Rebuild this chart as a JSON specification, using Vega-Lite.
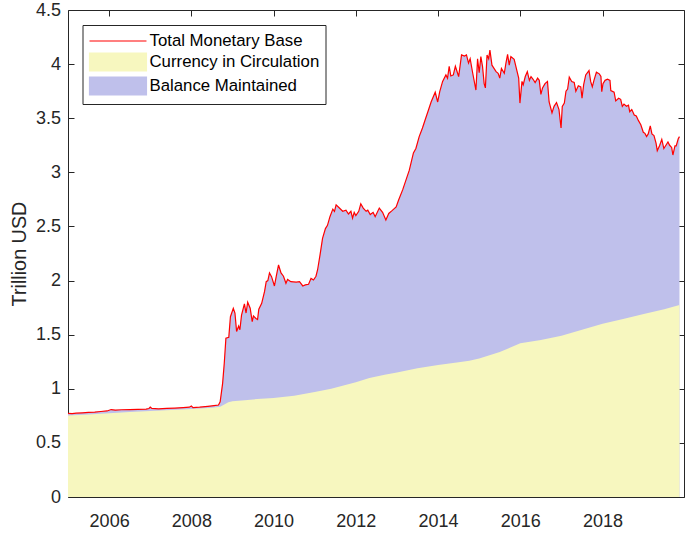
{
  "$schema": "https://vega.github.io/schema/vega-lite/v6.json",
  "width": 616,
  "height": 487,
  "autosize": "none",
  "padding": {"left": 68, "top": 10, "right": 6, "bottom": 36},
  "background": "white",
  "config": {
    "view": {"stroke": null},
    "font": "Liberation Sans",
    "axis": {
      "domainColor": "#262626",
      "tickColor": "#262626",
      "labelColor": "#262626",
      "labelFont": "Liberation Sans",
      "labelFontSize": 18,
      "titleFont": "Liberation Sans",
      "titleFontSize": 19.8,
      "titleColor": "#262626",
      "titleFontWeight": "normal",
      "grid": false,
      "tickSize": -6,
      "domainWidth": 1,
      "tickWidth": 1
    }
  },
  "datasets": {
    "total": [
      {"year": 2005.00, "v": 0.772}, {"year": 2005.10, "v": 0.770}, {"year": 2005.20, "v": 0.775}, {"year": 2005.35, "v": 0.778},
      {"year": 2005.50, "v": 0.782}, {"year": 2005.65, "v": 0.785}, {"year": 2005.80, "v": 0.790}, {"year": 2005.95, "v": 0.795},
      {"year": 2006.05, "v": 0.808}, {"year": 2006.15, "v": 0.803}, {"year": 2006.30, "v": 0.806}, {"year": 2006.50, "v": 0.808},
      {"year": 2006.70, "v": 0.810}, {"year": 2006.90, "v": 0.812}, {"year": 2006.97, "v": 0.818}, {"year": 2007.00, "v": 0.830},
      {"year": 2007.04, "v": 0.818}, {"year": 2007.20, "v": 0.815}, {"year": 2007.40, "v": 0.818}, {"year": 2007.60, "v": 0.822},
      {"year": 2007.80, "v": 0.826}, {"year": 2007.95, "v": 0.830}, {"year": 2008.00, "v": 0.840}, {"year": 2008.04, "v": 0.826},
      {"year": 2008.20, "v": 0.830}, {"year": 2008.40, "v": 0.838}, {"year": 2008.55, "v": 0.845}, {"year": 2008.66, "v": 0.850},
      {"year": 2008.70, "v": 0.880}, {"year": 2008.76, "v": 1.05}, {"year": 2008.80, "v": 1.236}, {"year": 2008.84, "v": 1.467},
      {"year": 2008.91, "v": 1.476}, {"year": 2008.95, "v": 1.666}, {"year": 2009.02, "v": 1.744}, {"year": 2009.06, "v": 1.70},
      {"year": 2009.10, "v": 1.53}, {"year": 2009.15, "v": 1.58}, {"year": 2009.18, "v": 1.545}, {"year": 2009.22, "v": 1.68},
      {"year": 2009.29, "v": 1.785}, {"year": 2009.33, "v": 1.70}, {"year": 2009.37, "v": 1.80}, {"year": 2009.43, "v": 1.744},
      {"year": 2009.48, "v": 1.62}, {"year": 2009.51, "v": 1.673}, {"year": 2009.57, "v": 1.65}, {"year": 2009.61, "v": 1.64},
      {"year": 2009.64, "v": 1.735}, {"year": 2009.71, "v": 1.79}, {"year": 2009.78, "v": 1.90}, {"year": 2009.82, "v": 1.99},
      {"year": 2009.86, "v": 2.00}, {"year": 2009.90, "v": 2.07}, {"year": 2009.95, "v": 2.036}, {"year": 2010.02, "v": 1.95},
      {"year": 2010.07, "v": 2.05}, {"year": 2010.12, "v": 2.144}, {"year": 2010.18, "v": 2.07}, {"year": 2010.24, "v": 2.04},
      {"year": 2010.30, "v": 1.975}, {"year": 2010.34, "v": 2.01}, {"year": 2010.42, "v": 1.99}, {"year": 2010.55, "v": 1.985},
      {"year": 2010.63, "v": 1.99}, {"year": 2010.71, "v": 1.95}, {"year": 2010.77, "v": 1.96}, {"year": 2010.85, "v": 1.966},
      {"year": 2010.91, "v": 2.02}, {"year": 2010.97, "v": 2.005}, {"year": 2011.03, "v": 2.04}, {"year": 2011.07, "v": 2.10},
      {"year": 2011.13, "v": 2.24}, {"year": 2011.19, "v": 2.39}, {"year": 2011.26, "v": 2.48}, {"year": 2011.31, "v": 2.51},
      {"year": 2011.37, "v": 2.59}, {"year": 2011.44, "v": 2.66}, {"year": 2011.48, "v": 2.64}, {"year": 2011.52, "v": 2.70},
      {"year": 2011.60, "v": 2.67}, {"year": 2011.68, "v": 2.64}, {"year": 2011.76, "v": 2.65}, {"year": 2011.82, "v": 2.615},
      {"year": 2011.88, "v": 2.64}, {"year": 2011.92, "v": 2.576}, {"year": 2011.96, "v": 2.63}, {"year": 2012.00, "v": 2.60},
      {"year": 2012.07, "v": 2.64}, {"year": 2012.12, "v": 2.71}, {"year": 2012.18, "v": 2.67}, {"year": 2012.25, "v": 2.64},
      {"year": 2012.29, "v": 2.65}, {"year": 2012.35, "v": 2.61}, {"year": 2012.42, "v": 2.63}, {"year": 2012.47, "v": 2.59},
      {"year": 2012.57, "v": 2.67}, {"year": 2012.65, "v": 2.63}, {"year": 2012.73, "v": 2.56}, {"year": 2012.80, "v": 2.62},
      {"year": 2012.88, "v": 2.646}, {"year": 2012.98, "v": 2.68}, {"year": 2013.04, "v": 2.745}, {"year": 2013.14, "v": 2.84},
      {"year": 2013.22, "v": 2.93}, {"year": 2013.30, "v": 3.02}, {"year": 2013.40, "v": 3.18}, {"year": 2013.46, "v": 3.22},
      {"year": 2013.54, "v": 3.33}, {"year": 2013.62, "v": 3.41}, {"year": 2013.69, "v": 3.49}, {"year": 2013.77, "v": 3.58},
      {"year": 2013.83, "v": 3.65}, {"year": 2013.93, "v": 3.74}, {"year": 2013.99, "v": 3.65}, {"year": 2014.04, "v": 3.745},
      {"year": 2014.11, "v": 3.84}, {"year": 2014.19, "v": 3.90}, {"year": 2014.23, "v": 3.87}, {"year": 2014.27, "v": 3.98},
      {"year": 2014.31, "v": 3.89}, {"year": 2014.37, "v": 3.90}, {"year": 2014.42, "v": 3.98}, {"year": 2014.50, "v": 3.885},
      {"year": 2014.57, "v": 4.085}, {"year": 2014.64, "v": 4.075}, {"year": 2014.69, "v": 4.085}, {"year": 2014.74, "v": 4.01},
      {"year": 2014.78, "v": 4.05}, {"year": 2014.84, "v": 3.92}, {"year": 2014.92, "v": 3.76}, {"year": 2014.96, "v": 4.05},
      {"year": 2015.00, "v": 3.92}, {"year": 2015.04, "v": 4.07}, {"year": 2015.08, "v": 3.98}, {"year": 2015.12, "v": 3.82},
      {"year": 2015.15, "v": 3.78}, {"year": 2015.19, "v": 4.085}, {"year": 2015.23, "v": 4.05}, {"year": 2015.26, "v": 4.13},
      {"year": 2015.31, "v": 3.99}, {"year": 2015.41, "v": 3.93}, {"year": 2015.46, "v": 3.915}, {"year": 2015.50, "v": 3.87},
      {"year": 2015.54, "v": 3.96}, {"year": 2015.61, "v": 3.915}, {"year": 2015.65, "v": 4.01}, {"year": 2015.69, "v": 4.09},
      {"year": 2015.73, "v": 3.99}, {"year": 2015.77, "v": 4.07}, {"year": 2015.85, "v": 4.045}, {"year": 2015.91, "v": 3.95},
      {"year": 2015.96, "v": 3.87}, {"year": 2015.99, "v": 3.64}, {"year": 2016.04, "v": 3.84}, {"year": 2016.07, "v": 3.81},
      {"year": 2016.12, "v": 3.885}, {"year": 2016.17, "v": 3.93}, {"year": 2016.22, "v": 3.85}, {"year": 2016.26, "v": 3.885},
      {"year": 2016.31, "v": 3.86}, {"year": 2016.36, "v": 3.83}, {"year": 2016.42, "v": 3.87}, {"year": 2016.46, "v": 3.85},
      {"year": 2016.50, "v": 3.72}, {"year": 2016.54, "v": 3.78}, {"year": 2016.60, "v": 3.82}, {"year": 2016.66, "v": 3.84},
      {"year": 2016.70, "v": 3.65}, {"year": 2016.77, "v": 3.55}, {"year": 2016.82, "v": 3.61}, {"year": 2016.88, "v": 3.645},
      {"year": 2016.94, "v": 3.58}, {"year": 2016.99, "v": 3.41}, {"year": 2017.02, "v": 3.61}, {"year": 2017.07, "v": 3.64},
      {"year": 2017.11, "v": 3.75}, {"year": 2017.15, "v": 3.77}, {"year": 2017.19, "v": 3.88}, {"year": 2017.25, "v": 3.84},
      {"year": 2017.31, "v": 3.83}, {"year": 2017.35, "v": 3.75}, {"year": 2017.41, "v": 3.80}, {"year": 2017.47, "v": 3.79},
      {"year": 2017.50, "v": 3.685}, {"year": 2017.54, "v": 3.81}, {"year": 2017.59, "v": 3.90}, {"year": 2017.67, "v": 3.94},
      {"year": 2017.71, "v": 3.84}, {"year": 2017.75, "v": 3.79}, {"year": 2017.79, "v": 3.85}, {"year": 2017.85, "v": 3.925},
      {"year": 2017.92, "v": 3.91}, {"year": 2017.96, "v": 3.885}, {"year": 2017.98, "v": 3.745}, {"year": 2018.01, "v": 3.82},
      {"year": 2018.06, "v": 3.85}, {"year": 2018.12, "v": 3.86}, {"year": 2018.18, "v": 3.85}, {"year": 2018.20, "v": 3.755},
      {"year": 2018.28, "v": 3.74}, {"year": 2018.32, "v": 3.66}, {"year": 2018.39, "v": 3.685}, {"year": 2018.44, "v": 3.675},
      {"year": 2018.48, "v": 3.61}, {"year": 2018.52, "v": 3.63}, {"year": 2018.58, "v": 3.61}, {"year": 2018.63, "v": 3.62},
      {"year": 2018.66, "v": 3.56}, {"year": 2018.71, "v": 3.58}, {"year": 2018.77, "v": 3.53}, {"year": 2018.82, "v": 3.52},
      {"year": 2018.87, "v": 3.48}, {"year": 2018.93, "v": 3.44}, {"year": 2018.99, "v": 3.37}, {"year": 2019.03, "v": 3.36},
      {"year": 2019.07, "v": 3.33}, {"year": 2019.11, "v": 3.355}, {"year": 2019.16, "v": 3.43}, {"year": 2019.20, "v": 3.355},
      {"year": 2019.25, "v": 3.34}, {"year": 2019.30, "v": 3.27}, {"year": 2019.33, "v": 3.20}, {"year": 2019.39, "v": 3.25},
      {"year": 2019.44, "v": 3.305}, {"year": 2019.49, "v": 3.22}, {"year": 2019.54, "v": 3.25}, {"year": 2019.59, "v": 3.28},
      {"year": 2019.63, "v": 3.25}, {"year": 2019.68, "v": 3.23}, {"year": 2019.71, "v": 3.16}, {"year": 2019.76, "v": 3.245},
      {"year": 2019.79, "v": 3.245}, {"year": 2019.84, "v": 3.31}, {"year": 2019.87, "v": 3.33}
    ],
    "currency": [
      {"year": 2005.00, "v": 0.752}, {"year": 2005.5, "v": 0.762}, {"year": 2006.0, "v": 0.775}, {"year": 2006.5, "v": 0.785},
      {"year": 2007.0, "v": 0.795}, {"year": 2007.5, "v": 0.805}, {"year": 2008.0, "v": 0.812}, {"year": 2008.5, "v": 0.825},
      {"year": 2008.7, "v": 0.835}, {"year": 2008.8, "v": 0.855}, {"year": 2008.9, "v": 0.875}, {"year": 2009.0, "v": 0.885},
      {"year": 2009.3, "v": 0.895}, {"year": 2009.6, "v": 0.905}, {"year": 2010.0, "v": 0.915}, {"year": 2010.5, "v": 0.935},
      {"year": 2011.0, "v": 0.970}, {"year": 2011.4, "v": 1.000}, {"year": 2011.7, "v": 1.030}, {"year": 2012.0, "v": 1.060},
      {"year": 2012.33, "v": 1.10}, {"year": 2012.7, "v": 1.13}, {"year": 2013.0, "v": 1.15}, {"year": 2013.5, "v": 1.19},
      {"year": 2014.0, "v": 1.22}, {"year": 2014.5, "v": 1.245}, {"year": 2014.76, "v": 1.26}, {"year": 2015.0, "v": 1.28},
      {"year": 2015.5, "v": 1.34}, {"year": 2016.0, "v": 1.42}, {"year": 2016.5, "v": 1.45}, {"year": 2017.0, "v": 1.49},
      {"year": 2017.5, "v": 1.545}, {"year": 2018.0, "v": 1.60}, {"year": 2018.5, "v": 1.645}, {"year": 2019.0, "v": 1.69},
      {"year": 2019.5, "v": 1.735}, {"year": 2019.87, "v": 1.775}
    ]
  },
  "layer": [
    {
      "data": {"name": "total"},
      "mark": {"type": "area", "opacity": 1, "interpolate": "linear"},
      "encoding": {
        "x": {
          "field": "year", "type": "quantitative",
          "scale": {"domain": [2005, 2019.98], "nice": false, "zero": false},
          "axis": {"orient": "bottom", "values": [2006, 2008, 2010, 2012, 2014, 2016, 2018], "format": "d", "title": null, "labelPadding": 21}
        },
        "y": {
          "field": "v", "type": "quantitative",
          "scale": {"domain": [0, 4.5], "nice": false, "zero": true},
          "axis": {"orient": "left", "values": [0, 0.5, 1, 1.5, 2, 2.5, 3, 3.5, 4, 4.5], "format": "~g", "title": "Trillion USD", "labelPadding": 13.5, "titlePadding": 6}
        },
        "color": {
          "datum": "Balance Maintained",
          "type": "nominal",
          "scale": {
            "domain": ["Total Monetary Base", "Currency in Circulation", "Balance Maintained"],
            "range": ["#ff0000", "#f7f7bf", "#bfc0eb"]
          },
          "legend": {
            "orient": "none",
            "legendX": 14.5,
            "legendY": 15,
            "title": null,
            "padding": 6,
            "rowPadding": 0,
            "strokeColor": "#262626",
            "fillColor": "white",
            "cornerRadius": 0,
            "labelFont": "Liberation Sans",
            "labelFontSize": 16.8,
            "labelColor": "#000000",
            "labelOffset": 41,
            "labelLimit": 300,
            "symbolSize": 324,
            "symbolStrokeWidth": 1.2,
            "encoding": {
              "symbols": {
                "shape": {"value": {"expr": "datum.value === 'Total Monetary Base' ? 'M-1,0H5.33' : 'M-1,-1H5.33V1H-1Z'"}},
                "fill": {"value": {"expr": "datum.value === 'Total Monetary Base' ? 'transparent' : (datum.value === 'Currency in Circulation' ? '#f7f7bf' : '#bfc0eb')"}},
                "stroke": {"value": {"expr": "datum.value === 'Total Monetary Base' ? '#ff0000' : 'transparent'"}},
                "strokeWidth": {"value": 1.2},
                "opacity": {"value": 1},
                "fillOpacity": {"value": 1}
              }
            }
          }
        }
      }
    },
    {
      "data": {"name": "currency"},
      "mark": {"type": "area", "opacity": 1, "interpolate": "linear"},
      "encoding": {
        "x": {"field": "year", "type": "quantitative", "axis": null},
        "y": {"field": "v", "type": "quantitative", "axis": null},
        "color": {"datum": "Currency in Circulation", "type": "nominal"}
      }
    },
    {
      "data": {"name": "total"},
      "mark": {"type": "line", "strokeWidth": 1.2, "interpolate": "linear"},
      "encoding": {
        "x": {
          "field": "year", "type": "quantitative",
          "axis": {"orient": "top", "labels": false, "title": null, "values": [2006, 2008, 2010, 2012, 2014, 2016, 2018]}
        },
        "y": {
          "field": "v", "type": "quantitative",
          "axis": {"orient": "right", "labels": false, "title": null, "values": [0, 0.5, 1, 1.5, 2, 2.5, 3, 3.5, 4, 4.5]}
        },
        "color": {"datum": "Total Monetary Base", "type": "nominal"}
      }
    }
  ],
  "resolve": {"axis": {"x": "independent", "y": "independent"}}
}
